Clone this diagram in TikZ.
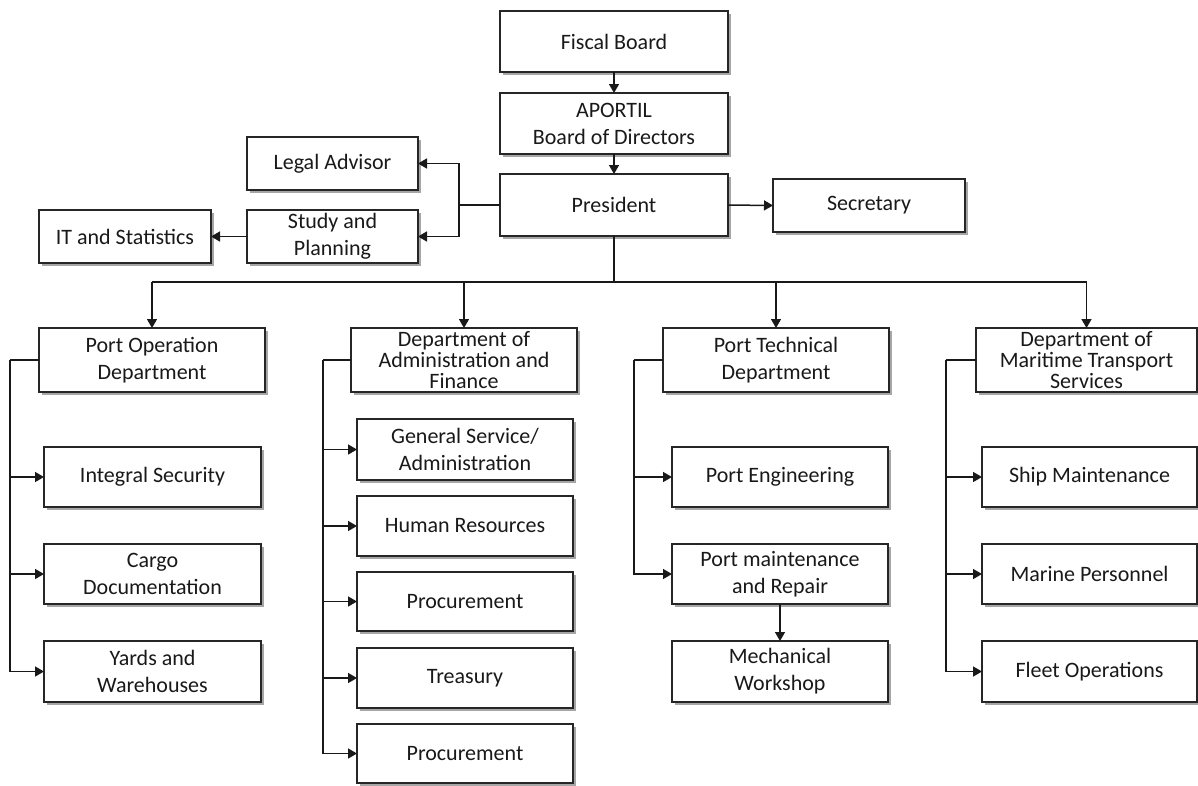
\documentclass[tikz,border=0pt]{standalone}
\usepackage{fontspec}
\setmainfont{Carlito}
\usetikzlibrary{arrows.meta,shadows}
\begin{document}
\begin{tikzpicture}[x=1pt,y=-1pt,
  box/.style={draw=black!85, line width=1.6pt, fill=white, align=center, inner sep=0pt, outer sep=0pt,
    text=black!90, font=\fontsize{22}{27}\selectfont,
    drop shadow={shadow xshift=2.5pt, shadow yshift=-2.5pt, opacity=0.35, fill=black}},
  tight/.style={font=\fontsize{22}{21}\selectfont},
  conn/.style={line width=1.5pt, draw=black!90},
  arr/.style={conn, -{Triangle[length=9pt,width=10pt]}}
]
\useasboundingbox (0,0) rectangle (1198,785);

% top stack
\node[box, minimum width=228pt, minimum height=61pt] (fiscal) at (614,41.5) {Fiscal Board};
\node[box, minimum width=228pt, minimum height=61pt] (aportil) at (614,123.5) {APORTIL\\Board of Directors};
\node[box, minimum width=228pt, minimum height=62pt] (pres) at (614,205) {President};
\node[box, minimum width=171pt, minimum height=53pt] (legal) at (332.5,163.5) {Legal Advisor};
\node[box, minimum width=171pt, minimum height=53pt] (study) at (332.5,236.5) {Study and\\Planning};
\node[box, minimum width=172pt, minimum height=53pt] (it) at (125,236.5) {IT and Statistics};
\node[box, minimum width=192pt, minimum height=53pt] (sec) at (869,205.5) {Secretary};

% departments
\node[box, minimum width=226pt, minimum height=64pt] (portop) at (152,360) {Port Operation\\Department};
\node[box, tight, minimum width=226pt, minimum height=64pt] (admin) at (464,360) {Department of\\Administration and\\Finance};
\node[box, minimum width=226pt, minimum height=64pt] (tech) at (776,360) {Port Technical\\Department};
\node[box, tight, minimum width=221pt, minimum height=64pt] (mar) at (1086.5,360) {Department of\\Maritime Transport\\Services};

% port operation children
\node[box, minimum width=217pt, minimum height=60pt] (integral) at (152.5,477) {Integral Security};
\node[box, minimum width=217pt, minimum height=60pt] (cargo) at (152.5,574) {Cargo\\Documentation};
\node[box, minimum width=217pt, minimum height=61pt] (yards) at (152.5,671.5) {Yards and\\Warehouses};

% administration children
\node[box, minimum width=216pt, minimum height=61pt] (general) at (465,449.5) {General Service/\\Administration};
\node[box, minimum width=216pt, minimum height=60pt] (hr) at (465,526) {Human Resources};
\node[box, minimum width=216pt, minimum height=59pt] (proca) at (465,601.5) {Procurement};
\node[box, minimum width=216pt, minimum height=60pt] (treas) at (465,678) {Treasury};
\node[box, minimum width=216pt, minimum height=59pt] (procb) at (465,753.5) {Procurement};

% technical children
\node[box, minimum width=216pt, minimum height=60pt] (porteng) at (780,477) {Port Engineering};
\node[box, minimum width=216pt, minimum height=60pt] (portmaint) at (780,574) {Port maintenance\\and Repair};
\node[box, minimum width=216pt, minimum height=61pt] (mech) at (780,671.5) {Mechanical\\Workshop};

% maritime children
\node[box, minimum width=215pt, minimum height=60pt] (ship) at (1089.5,477) {Ship Maintenance};
\node[box, minimum width=215pt, minimum height=60pt] (marine) at (1089.5,574) {Marine Personnel};
\node[box, minimum width=215pt, minimum height=61pt] (fleet) at (1089.5,671.5) {Fleet Operations};

% top connectors
\draw[arr] (fiscal.south) -- (aportil.north);
\draw[arr] (aportil.south) -- (pres.north);
\coordinate (lb) at (459,205);
\draw[conn] (pres.west) -- (lb);
\draw[arr] (lb) |- (legal.east);
\draw[arr] (lb) |- (study.east);
\draw[arr] (study.west) -- (it.east);
\draw[arr] (pres.east) -- (sec.west);

% bus
\coordinate (bus) at (614,282);
\draw[conn] (pres.south) -- (bus);
\draw[conn] (portop.north |- bus) -- (mar.north |- bus);
\draw[arr] (portop.north |- bus) -- (portop.north);
\draw[arr] (admin.north |- bus) -- (admin.north);
\draw[arr] (tech.north |- bus) -- (tech.north);
\draw[arr] (mar.north |- bus) -- (mar.north);

% port operation branch
\coordinate (pl) at (10,360);
\draw[conn] (portop.west) -- (pl);
\draw[arr] (pl) |- (yards.west);
\draw[arr] (pl |- integral.west) -- (integral.west);
\draw[arr] (pl |- cargo.west) -- (cargo.west);

% administration branch
\coordinate (al) at (323,360);
\draw[conn] (admin.west) -- (al);
\draw[arr] (al) |- (procb.west);
\draw[arr] (al |- general.west) -- (general.west);
\draw[arr] (al |- hr.west) -- (hr.west);
\draw[arr] (al |- proca.west) -- (proca.west);
\draw[arr] (al |- treas.west) -- (treas.west);

% technical branch
\coordinate (tl) at (634,360);
\draw[conn] (tech.west) -- (tl);
\draw[arr] (tl) |- (portmaint.west);
\draw[arr] (tl |- porteng.west) -- (porteng.west);
\draw[arr] (portmaint.south) -- (mech.north);

% maritime branch
\coordinate (ml) at (946,360);
\draw[conn] (mar.west) -- (ml);
\draw[arr] (ml) |- (fleet.west);
\draw[arr] (ml |- ship.west) -- (ship.west);
\draw[arr] (ml |- marine.west) -- (marine.west);
\end{tikzpicture}
\end{document}
